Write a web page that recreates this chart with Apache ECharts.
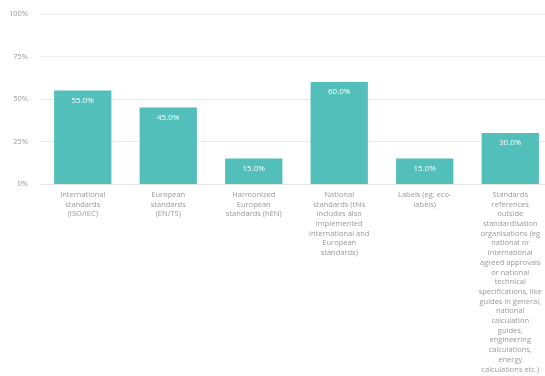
<!DOCTYPE html>
<html><head><meta charset="utf-8">
<script src="https://cdn.jsdelivr.net/npm/echarts@6/dist/echarts.min.js"></script>
<style>html,body{margin:0;padding:0;background:#fff}#c{width:545px;height:376px}</style>
</head><body><div id="c"></div>
<script>
const categories = [
  "International\nstandards\n(ISO/IEC)",
  "European\nstandards\n(EN/TS)",
  "Harmonized\nEuropean\nstandards (hEN)",
  "National\nstandards (this\nincludes also\nimplemented\ninternational and\nEuropean\nstandards)",
  "Labels (eg. eco-\nlabels)",
  "Standards\nreferences\noutside\nstandardisation\norganisations (eg\nnational or\ninternational\nagreed approvals\nor national\ntechnical\nspecifications, like\nguides in general,\nnational\ncalculation\nguides,\nengineering\ncalculations,\nenergy\ncalculations etc.)"
];
const values = [55, 45, 15, 60, 15, 30];
const yTicks = [0, 25, 50, 75, 100];

const chart = echarts.init(document.getElementById('c'));
chart.setOption({
  animation: false,
  grid: {left: 40, top: 14, width: 513, height: 170, containLabel: false, outerBoundsMode: 'none'},
  xAxis: {
    type: 'category', data: categories,
    axisLine: {show: true, lineStyle: {color: '#e6e6e6'}},
    axisTick: {show: false},
    axisLabel: {interval: 0, color: '#9a9a9a', fontSize: 7.5, lineHeight: 9.7, margin: 6, fontFamily: 'Open Sans'}
  },
  yAxis: {
    type: 'value', min: 0, max: 100, interval: 25,
    axisLine: {show: false}, axisTick: {show: false},
    splitLine: {lineStyle: {color: '#ebebeb'}},
    axisLabel: {color: '#9a9a9a', fontSize: 7.5, margin: 12, fontFamily: 'Open Sans',
      formatter: v => yTicks.includes(v) ? v + '%' : ''}
  },
  series: [{
    type: 'bar', data: values, barCategoryGap: '33%',
    itemStyle: {color: '#52bfba'},
    label: {show: true, position: 'insideTop', distance: 6, color: '#ffffff', fontSize: 8, fontFamily: 'Open Sans',
      formatter: p => p.value.toFixed(1) + '%'}
  }]
});
</script></body></html>
